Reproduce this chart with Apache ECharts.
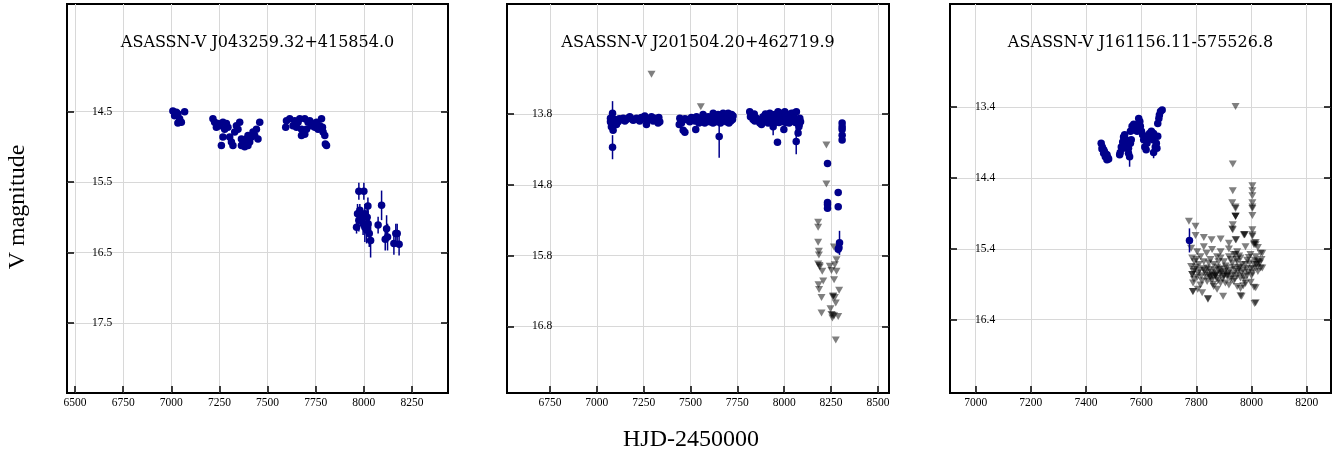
<!DOCTYPE html>
<html>
<head>
<meta charset="utf-8">
<script src="https://cdn.jsdelivr.net/npm/echarts@6/dist/echarts.min.js"></script>
<style>
html,body{margin:0;padding:0;background:#fff;}
#chart{width:1333px;height:460px;}
</style>
</head>
<body>
<div id="chart"></div>
<script>
// ---------- DATA ----------
const titles = ['ASASSN-V J043259.32+415854.0', 'ASASSN-V J201504.20+462719.9', 'ASASSN-V J161156.11-575526.8'];
const xLabelText = 'HJD-2450000';
const yLabelText = 'V magnitude';

const p1XTicks = [6500, 6750, 7000, 7250, 7500, 7750, 8000, 8250];
const p2XTicks = [6750, 7000, 7250, 7500, 7750, 8000, 8250, 8500];
const p3XTicks = [7000, 7200, 7400, 7600, 7800, 8000, 8200];
const p1YTicks = [14.5, 15.5, 16.5, 17.5];
const p2YTicks = [13.8, 14.8, 15.8, 16.8];
const p3YTicks = [13.4, 14.4, 15.4, 16.4];

// detections: [HJD-2450000, V mag, error]
const p1Det = [
  [7008,14.49,0.03],[7017,14.56,0.03],[7034,14.53,0.03],[7043,14.60,0.03],[7052,14.65,0.03],[7034,14.66,0.03],[7069,14.50,0.03],[7026,14.51,0.03],
  [7216,14.60,0.03],[7225,14.65,0.03],[7234,14.72,0.03],[7242,14.67,0.03],[7251,14.70,0.03],[7268,14.65,0.03],[7277,14.75,0.03],[7286,14.67,0.03],
  [7294,14.72,0.03],[7260,14.98,0.03],[7268,14.86,0.03],[7303,14.86,0.03],[7312,14.93,0.03],[7320,14.98,0.03],[7329,14.79,0.03],[7338,14.70,0.03],
  [7346,14.75,0.03],[7355,14.65,0.03],[7364,14.89,0.03],[7364,14.98,0.03],[7372,14.93,0.03],[7381,15.00,0.03],[7390,14.89,0.03],[7398,14.84,0.03],
  [7398,14.98,0.03],[7407,14.93,0.03],[7416,14.86,0.03],[7424,14.79,0.03],[7433,14.84,0.03],[7442,14.75,0.03],[7450,14.89,0.03],[7459,14.65,0.03],
  [7598,14.63,0.03],[7594,14.72,0.03],[7615,14.60,0.03],[7632,14.70,0.03],[7641,14.63,0.03],[7650,14.72,0.03],[7658,14.65,0.03],[7667,14.60,0.03],
  [7676,14.75,0.03],[7684,14.79,0.03],[7676,14.84,0.03],[7693,14.82,0.03],[7693,14.60,0.03],[7702,14.75,0.03],[7710,14.65,0.03],[7719,14.63,0.03],
  [7728,14.70,0.03],[7736,14.67,0.03],[7745,14.72,0.03],[7754,14.65,0.03],[7762,14.75,0.03],[7771,14.70,0.03],[7780,14.60,0.03],[7785,14.72,0.03],
  [7788,14.79,0.03],[7797,14.84,0.03],[7800,14.96,0.03],[7806,14.98,0.03],
  [7974,15.63,0.12],[8000,15.63,0.12],[7962,16.14,0.09],[7967,15.95,0.14],[7974,16.04,0.16],[7979,15.90,0.09],[7988,16.00,0.14],[7996,16.09,0.16],
  [8005,15.95,0.14],[8005,16.14,0.21],[8014,16.18,0.19],[8017,16.00,0.12],[8021,15.84,0.12],[8022,16.09,0.19],[8028,16.23,0.19],[8035,16.33,0.24],
  [8074,16.11,0.12],[8092,15.83,0.21],[8111,16.31,0.16],[8118,16.16,0.19],[8123,16.28,0.19],[8156,16.37,0.16],[8166,16.23,0.14],[8173,16.23,0.14],
  [8183,16.38,0.16]
];
const p1Lim = [];

const p2Det = [
  [7073,13.86,0.03],[7078,13.93,0.03],[7084,13.79,0.17],[7084,14.27,0.17],[7087,14.03,0.04],[7073,13.91,0.03],[7078,13.98,0.04],[7090,13.90,0.03],
  [7096,13.88,0.03],[7105,13.95,0.03],[7114,13.91,0.03],[7120,13.87,0.03],[7132,13.88,0.03],[7141,13.86,0.03],[7150,13.90,0.03],[7158,13.88,0.03],
  [7167,13.86,0.03],[7176,13.84,0.03],[7185,13.87,0.03],[7194,13.89,0.03],[7203,13.88,0.03],[7212,13.86,0.03],[7220,13.88,0.03],[7229,13.90,0.03],
  [7238,13.85,0.03],[7247,13.87,0.03],[7256,13.83,0.03],[7265,13.95,0.03],[7274,13.88,0.03],[7283,13.87,0.03],[7292,13.84,0.03],[7301,13.90,0.03],
  [7310,13.86,0.03],[7318,13.88,0.03],[7327,13.93,0.03],[7331,13.85,0.03],[7336,13.91,0.03],
  [7440,13.95,0.03],[7443,13.86,0.03],[7448,13.90,0.03],[7452,13.93,0.03],[7461,14.03,0.03],[7470,14.06,0.03],[7470,13.87,0.03],[7478,13.88,0.03],
  [7487,13.88,0.03],[7496,13.91,0.03],[7505,13.85,0.03],[7514,13.86,0.03],[7523,13.90,0.03],[7528,14.02,0.03],[7532,13.84,0.03],[7541,13.86,0.03],
  [7545,13.93,0.03],[7550,13.88,0.03],[7558,13.91,0.03],[7567,13.81,0.03],[7576,13.93,0.03],[7585,13.87,0.03],[7594,13.84,0.03],[7603,13.91,0.03],
  [7612,13.85,0.03],[7620,13.93,0.03],[7621,13.79,0.03],[7630,13.86,0.03],[7639,13.91,0.03],[7647,13.81,0.03],[7653,14.12,0.30],[7656,13.86,0.03],
  [7660,13.93,0.03],[7665,13.88,0.03],[7674,13.79,0.03],[7683,13.84,0.03],[7692,13.91,0.03],[7698,13.84,0.03],[7701,13.79,0.03],[7705,13.93,0.03],
  [7710,13.86,0.03],[7715,13.90,0.03],[7719,13.81,0.03],[7724,13.88,0.03],[7727,13.83,0.03],
  [7816,13.77,0.03],[7820,13.84,0.03],[7825,13.81,0.03],[7834,13.88,0.03],[7840,13.80,0.03],[7843,13.90,0.03],[7852,13.86,0.03],[7861,13.89,0.03],
  [7870,13.93,0.03],[7879,13.95,0.03],[7887,13.84,0.03],[7896,13.90,0.03],[7900,13.80,0.03],[7905,13.88,0.03],[7914,13.93,0.03],[7923,13.79,0.03],
  [7930,13.91,0.03],[7932,13.86,0.03],[7941,13.98,0.12],[7945,13.93,0.03],[7950,13.81,0.03],[7959,13.88,0.03],[7964,14.20,0.04],[7967,13.77,0.03],
  [7972,13.92,0.03],[7976,13.86,0.03],[7980,13.79,0.03],[7985,13.81,0.03],[7990,13.89,0.03],[7994,13.91,0.03],[7998,14.02,0.04],[8003,13.77,0.03],
  [8008,13.92,0.03],[8012,13.86,0.03],[8021,13.81,0.03],[8026,13.93,0.03],[8030,13.88,0.03],[8039,13.79,0.03],[8044,13.90,0.03],[8048,13.84,0.03],
  [8050,13.79,0.03],[8056,13.86,0.03],[8060,13.92,0.03],[8064,14.19,0.18],[8065,13.77,0.03],[8071,13.93,0.03],[8074,14.07,0.05],[8078,13.98,0.04],
  [8080,13.95,0.03],[8083,13.86,0.03],[8087,13.91,0.03],
  [8231,14.50,0.04],[8231,15.05,0.04],[8231,15.08,0.04],[8231,15.13,0.04],[8288,14.91,0.04],[8288,15.11,0.04],[8309,13.93,0.03],[8309,13.98,0.03],
  [8309,14.02,0.03],[8309,14.10,0.03],[8309,14.17,0.03],[8295,15.62,0.17],[8292,15.69,0.06],[8288,15.71,0.06]
];
// upper limits: [HJD-2450000, V mag]
const p2Lim = [
  [7292,13.24],[7555,13.70],[8225,14.24],[8225,14.79],[8181,15.33],[8181,15.40],[8181,15.61],[8185,15.74],[8185,15.79],[8181,15.92],
  [8190,15.96],[8203,16.02],[8208,16.16],[8183,16.21],[8186,16.28],[8199,16.39],[8199,16.61],[8243,15.95],[8252,16.01],[8266,16.14],
  [8279,16.02],[8270,15.93],[8279,15.86],[8265,15.68],[8261,16.37],[8270,16.39],[8275,16.47],[8293,16.29],[8247,16.55],[8252,16.63],
  [8257,16.68],[8266,16.65],[8288,16.66],[8275,16.99],[8188,15.94],[8260,16.38],[8258,16.64]
];

const p3Det = [
  [7455,13.91,0.03],[7459,13.96,0.03],[7464,14.00,0.03],[7467,14.03,0.03],[7471,14.06,0.03],[7476,14.07,0.03],[7479,14.11,0.03],[7482,14.13,0.03],
  [7476,14.14,0.03],[7464,14.05,0.03],[7458,13.99,0.03],[7470,14.10,0.03],
  [7524,14.04,0.04],[7528,13.96,0.03],[7533,13.89,0.03],[7536,13.82,0.03],[7540,13.79,0.03],[7545,13.86,0.03],[7548,13.93,0.03],[7554,13.98,0.03],
  [7554,14.05,0.04],[7558,14.10,0.14],[7561,13.91,0.03],[7564,13.86,0.03],[7534,13.98,0.03],[7522,14.07,0.03],
  [7561,13.74,0.03],[7567,13.67,0.03],[7573,13.64,0.03],[7579,13.67,0.03],[7585,13.74,0.03],[7591,13.56,0.03],[7595,13.60,0.03],[7597,13.67,0.03],
  [7601,13.74,0.03],[7605,13.79,0.03],[7570,13.72,0.03],
  [7609,13.86,0.03],[7613,13.96,0.03],[7618,14.00,0.03],[7621,13.91,0.03],[7625,13.84,0.03],[7630,13.77,0.03],[7633,13.81,0.03],[7637,13.74,0.03],
  [7642,13.86,0.03],[7645,13.77,0.03],[7649,13.81,0.03],[7651,13.96,0.03],[7655,13.91,0.03],[7657,13.98,0.03],[7645,14.04,0.08],[7660,13.81,0.03],
  [7660,13.63,0.03],[7664,13.56,0.03],[7666,13.51,0.03],[7670,13.46,0.03],[7676,13.44,0.03],
  [7775,15.28,0.17]
];
const p3Lim = [
  [7942,13.39],[7932,14.20],[7932,14.58],[8003,14.51],[8003,14.58],[8003,14.65],[8003,14.75],[8003,14.81],[8003,14.83],[8003,14.93],
  [7930,14.75],[7942,14.81],[7942,14.83],[7942,14.94],[7942,14.94],[7932,15.06],[7930,15.12],[7932,15.13],[7942,15.27],[8003,15.13],
  [8003,15.20],[7975,15.20],[7972,15.20],[7773,15.01],[7797,15.08],[8009,15.32],[8015,15.34],
  [7797,15.21],[7827,15.24],[7855,15.27],[7888,15.26],[7918,15.32],[7944,15.27],[7975,15.20],[8003,15.22],[8015,15.31],
  [7781,15.39],[7827,15.37],[7857,15.41],[7888,15.44],[7918,15.40],[7948,15.44],[7978,15.37],[8009,15.34],[8023,15.38],[8033,15.46],[7803,15.44],[7837,15.46],
  [7785,15.53],[7815,15.51],[7851,15.55],[7875,15.51],[7900,15.58],[7936,15.48],[7960,15.53],[7984,15.56],[8015,15.51],[8039,15.46],
  [7793,15.58],[7827,15.58],[7888,15.53],[7918,15.51],[7946,15.55],[7996,15.48],[8027,15.58],
  [7781,15.65],[7809,15.62],[7839,15.67],[7863,15.62],[7888,15.69],[7906,15.64],[7930,15.60],[7954,15.67],[7978,15.62],[7997,15.68],
  [8021,15.66],[8039,15.67],[7793,15.69],[7825,15.68],[7875,15.66],[7942,15.69],[7966,15.62],[8009,15.62],
  [7785,15.76],[7803,15.80],[7833,15.74],[7851,15.81],[7869,15.78],[7888,15.73],[7912,15.79],[7936,15.75],[7960,15.81],[7984,15.77],
  [8003,15.74],[8023,15.72],[7791,15.83],[7845,15.77],[7857,15.84],[7875,15.81],[7900,15.77],[7924,15.83],[7948,15.78],[7972,15.79],
  [7788,15.88],[7815,15.91],[7839,15.86],[7863,15.93],[7888,15.88],[7918,15.91],[7948,15.93],[7978,15.89],[7997,15.87],
  [7805,15.97],[7875,15.97],[7960,15.96],
  [7788,16.00],[7821,16.02],[7842,16.10],[7897,16.07],[7964,16.07],[8015,15.95],[8015,16.16],
  [7787,16.00],[7842,16.11],[7960,16.06],[8011,16.17],[8009,15.94],
  [7785,15.76],[7851,15.78],[7869,15.77],[7942,15.48],[7948,15.58],[8021,15.58],[8033,15.67],[7942,14.94],[7888,15.75],[7900,15.79],[7912,15.77],
  [7790,15.72],[7798,15.66],[7806,15.74],[7812,15.70],[7818,15.78],[7830,15.71],[7836,15.80],[7848,15.69],[7854,15.73],[7860,15.79],
  [7866,15.70],[7872,15.75],[7878,15.85],[7884,15.68],[7894,15.82],[7903,15.72],[7909,15.67],[7915,15.74],[7921,15.70],[7927,15.78],
  [7933,15.66],[7939,15.82],[7951,15.72],[7957,15.66],[7963,15.74],[7969,15.70],[7975,15.84],[7981,15.68],[7987,15.73],[7993,15.60],
  [8000,15.78],[8006,15.68],[8012,15.56],[8018,15.62],[8030,15.60],[8036,15.55],[7800,15.55],[7845,15.60],[7880,15.58],[7925,15.55],
  [7955,15.50],[7990,15.52],[7820,15.85],[7860,15.90],[7905,15.88],[7935,15.86],[7970,15.92]
];

// ---------- LAYOUT ----------
const panels = [
  {det: p1Det, lim: p1Lim, xt: p1XTicks, yt: p1YTicks, left: 67, width: 381, xmin: 6458, xmax: 8437, ymin: 12.973, ymax: 18.492},
  {det: p2Det, lim: p2Lim, xt: p2XTicks, yt: p2YTicks, left: 507, width: 382, xmin: 6521, xmax: 8559, ymin: 12.249, ymax: 17.739},
  {det: p3Det, lim: p3Lim, xt: p3XTicks, yt: p3YTicks, left: 950, width: 381, xmin: 6907, xmax: 8288, ymin: 11.943, ymax: 17.434}
];
const TOP = 4, HEIGHT = 389;
const BLUE = '#00008B';
const SERIF = '"Liberation Serif", "Times New Roman", serif';

const grid = [], xAxis = [], yAxis = [], series = [], graphic = [];
panels.forEach((p, i) => {
  grid.push({left: p.left, top: TOP, width: p.width, height: HEIGHT, show: true, borderColor: '#000', borderWidth: 2, backgroundColor: '#fff', containLabel: false});
  xAxis.push({
    type: 'value', gridIndex: i, min: p.xmin, max: p.xmax,
    axisLine: {show: false},
    axisTick: {show: true, inside: true, length: 7, lineStyle: {color: '#000', width: 1.5}, customValues: p.xt},
    axisLabel: {customValues: p.xt, color: '#000', fontFamily: SERIF, fontSize: 11.5, margin: 4, formatter: v => String(Math.round(v))},
    splitLine: {show: true, lineStyle: {color: '#d8d8d8', width: 1}}
  });
  yAxis.push({
    type: 'value', gridIndex: i, min: p.ymin, max: p.ymax, inverse: true,
    axisLine: {show: false},
    axisTick: {show: true, inside: true, length: 7, lineStyle: {color: '#000', width: 1.5}, customValues: p.yt},
    axisLabel: {inside: true, customValues: p.yt, color: '#000', fontFamily: SERIF, fontSize: 11.5, margin: 25, formatter: v => v.toFixed(1)},
    splitLine: {show: true, lineStyle: {color: '#d8d8d8', width: 1}}
  });
  yAxis.push({
    type: 'value', gridIndex: i, position: 'right', min: p.ymin, max: p.ymax, inverse: true,
    axisLine: {show: false},
    axisTick: {show: true, inside: true, length: 7, lineStyle: {color: '#000', width: 1.5}, customValues: p.yt},
    axisLabel: {show: false, customValues: p.yt},
    splitLine: {show: false}
  });
  series.push({
    type: 'scatter', xAxisIndex: i, yAxisIndex: 2 * i, symbol: 'triangle', symbolRotate: 180, symbolSize: [8, 7],
    itemStyle: {color: 'rgba(0,0,0,0.5)', opacity: 1}, data: p.lim, z: 2, silent: true
  });
  series.push({
    type: 'custom', xAxisIndex: i, yAxisIndex: 2 * i, data: p.det, z: 3, silent: true,
    encode: {x: 0, y: 1},
    renderItem: (params, api) => {
      const x = api.value(0), y = api.value(1), e = api.value(2);
      const a = api.coord([x, y - e]), b = api.coord([x, y + e]);
      return {type: 'line', shape: {x1: a[0], y1: a[1], x2: b[0], y2: b[1]}, style: {stroke: BLUE, lineWidth: 1.5}};
    }
  });
  series.push({
    type: 'scatter', xAxisIndex: i, yAxisIndex: 2 * i, symbol: 'circle', symbolSize: 7.5,
    itemStyle: {color: BLUE, opacity: 1}, data: p.det.map(d => [d[0], d[1]]), z: 4, silent: true
  });
  graphic.push({
    type: 'text', x: p.left + p.width / 2, y: 43, z: 10,
    style: {text: titles[i], font: '16px "DejaVu Serif"', fill: '#000', align: 'center', verticalAlign: 'middle', textAlign: 'center', textVerticalAlign: 'middle'}
  });
});
graphic.push({
  type: 'text', x: 18, y: 207, rotation: Math.PI / 2, z: 10,
  style: {text: yLabelText, font: '24px ' + SERIF, fill: '#000', align: 'center', verticalAlign: 'middle', textAlign: 'center', textVerticalAlign: 'middle'}
});
graphic.push({
  type: 'text', x: 691, y: 440, z: 10,
  style: {text: xLabelText, font: '24px ' + SERIF, fill: '#000', align: 'center', verticalAlign: 'middle', textAlign: 'center', textVerticalAlign: 'middle'}
});

const chart = echarts.init(document.getElementById('chart'), null, {renderer: 'canvas'});
chart.setOption({animation: false, backgroundColor: '#fff', grid, xAxis, yAxis, series, graphic});
</script>
</body>
</html>
